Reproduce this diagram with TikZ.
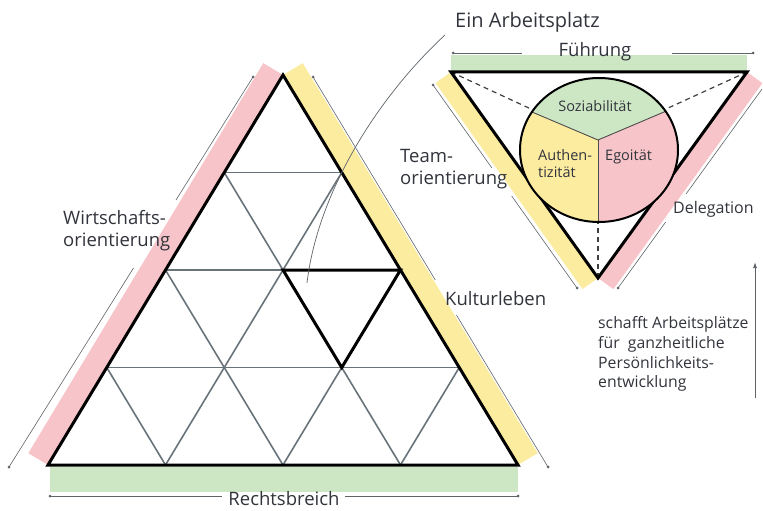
\documentclass[tikz,border=0pt]{standalone}
\usepackage{fontspec}
\setsansfont{Open Sans}
\usetikzlibrary{arrows.meta}

\definecolor{bandpink}{RGB}{247,197,201}
\definecolor{bandyellow}{RGB}{252,236,160}
\definecolor{bandgreen}{RGB}{205,231,197}
\definecolor{gridgray}{RGB}{105,115,122}
\definecolor{dimgray}{RGB}{95,100,105}
\definecolor{txtgray}{RGB}{50,52,60}

\begin{document}
\begin{tikzpicture}[
            x=1pt, y=-1pt,
            every node/.style={font=\sffamily, text=txtgray, inner sep=0pt},
            band/.style={line width=#1, line cap=butt},
            outline/.style={draw=black, line width=3pt, line join=miter},
            grid/.style={draw=gridgray, line width=1.6pt},
            dimline/.style={draw=dimgray, line width=0.6pt},
            dashline/.style={draw=black!75, line width=1.2pt, dash pattern=on 5pt off 4pt},
            sector/.style={draw=black!70, line width=0.9pt},
            ring/.style={draw=black, line width=2pt},
            pointer/.style={draw=dimgray, line width=0.7pt},
            biglabel/.style={font=\sffamily\fontsize{18.5}{22}\selectfont, align=left},
            pielabel/.style={font=\sffamily\fontsize{14.5}{17}\selectfont, align=left},
            note/.style={font=\sffamily\fontsize{15.8}{19.7}\selectfont, align=left}
        ]
            \useasboundingbox (0,0) rectangle (763,511);

            % Corners
            \coordinate (A) at (48,465);
            \coordinate (B) at (518,465);
            \coordinate (C) at (283,75);
            \coordinate (P) at (451,72);
            \coordinate (Q) at (747,72);
            \coordinate (R) at (598,278);
            \coordinate (G) at (598,140);
            \coordinate (O) at (599,150);

            % Colour bands of the big triangle
            \draw[bandpink, band=23pt] (38.15,459.06) -- (273.15,69.06);
            \draw[bandyellow, band=23pt] (292.85,69.06) -- (527.85,459.06);
            \fill[bandgreen] (50,467) rectangle (518,492);

            % Colour bands of the small triangle
            \fill[bandgreen] (451,55) rectangle (747,72);
            \draw[bandyellow, band=19pt] (443.27,77.52) -- (590.27,283.52);
            \draw[bandpink, band=19pt] (754.70,77.57) -- (605.70,283.57);

            % Measuring lines
            \draw[dimline] (9,467) -- (133.5,268);
            \draw[dimline] (176,200) -- (253,77);
            \draw[dimline] (313,77) -- (435.3,280);
            \draw[dimline] (456.4,315) -- (548,467);
            \draw[dimline] (50,496) -- (222,496);
            \draw[dimline] (345,496) -- (518,496);
            \draw[dimline] (453,53) -- (522,53);
            \draw[dimline] (672,53) -- (753,53);
            \draw[dimline] (433,85) -- (491.9,168);
            \draw[dimline] (511.7,196) -- (577,288);
            \draw[dimline] (618,288) -- (665.7,222);
            \draw[dimline] (686,194) -- (762,89);
            \fill[dimgray] (9,467) circle (1.5pt) (253,77) circle (1.5pt)
                (313,77) circle (1.5pt) (548,467) circle (1.5pt)
                (50,496) circle (1.5pt) (518,496) circle (1.5pt)
                (453,53) circle (1.5pt) (753,53) circle (1.5pt)
                (433,85) circle (1.5pt) (577,288) circle (1.5pt)
                (618,288) circle (1.5pt);

            % Grid of the big triangle
            \draw[grid] (224.25,172.5) -- (341.75,172.5);
            \draw[grid] (165.5,270) -- (400.5,270);
            \draw[grid] (106.75,367.5) -- (459.25,367.5);
            \draw[grid] (165.5,465) -- (341.75,172.5);
            \draw[grid] (283,465) -- (400.5,270);
            \draw[grid] (400.5,465) -- (459.25,367.5);
            \draw[grid] (400.5,465) -- (224.25,172.5);
            \draw[grid] (283,465) -- (165.5,270);
            \draw[grid] (165.5,465) -- (106.75,367.5);

            \draw[outline] (A) -- (B) -- (C) -- cycle;
            \draw[outline] (283,270) -- (400.5,270) -- (341.75,367.5) -- cycle;

            % Small triangle with circle
            \draw[dashline] (P) -- (G);
            \draw[dashline] (Q) -- (G);
            \draw[dashline] (R) -- (G);
            \draw[outline] (P) -- (Q) -- (R) -- cycle;
            \begin{scope}
                \clip (O) ellipse [x radius=79pt, y radius=72pt];
                \fill[bandgreen] (G) -- (466,84) -- (466,40) -- (730,40) -- (730,84) -- cycle;
                \fill[bandyellow] (G) -- (466,84) -- (466,300) -- (598,300) -- cycle;
                \fill[bandpink] (G) -- (730,84) -- (730,300) -- (598,300) -- cycle;
                \draw[sector] (466,84) -- (G) -- (730,84);
                \draw[sector] (G) -- (598,300);
            \end{scope}
            \draw[ring] (O) ellipse [x radius=79pt, y radius=72pt];

            % Labels
            \node[font=\sffamily\fontsize{20}{24}\selectfont, anchor=base west] (platz) at (455,28) {Ein Arbeitsplatz};
            \node[biglabel, anchor=base] (fuehrung) at (595,57) {Führung};
            \node[biglabel, anchor=west] (team) at (400,169) {Team-\\orientierung};
            \node[biglabel, anchor=west] (wirtschaft) at (63,231) {Wirtschafts-\\orientierung};
            \node[biglabel, anchor=base west] (kultur) at (445,305) {Kulturleben};
            \node[biglabel, anchor=base] (recht) at (284,505) {Rechtsbreich};
            \node[font=\sffamily\fontsize{16}{19}\selectfont, anchor=base west] (delegation) at (673,213) {Delegation};
            \node[pielabel, anchor=base] (sozial) at (595,111) {Soziabilität};
            \node[pielabel, anchor=west] (authen) at (538,164) {Authen-\\tizität};
            \node[pielabel, anchor=base west] (ego) at (605,160) {Egoität};
            \node[note, anchor=west] (schafft) at (598,354) {schafft Arbeitsplätze\\für\ \ ganzheitliche\\Persönlichkeits-\\entwicklung};

            % Pointer from the title to one workplace
            \coordinate (ptop) at (445,35);
            \coordinate (pend) at (307,283);
            \draw[pointer] (ptop) .. controls (380,95) and (318,190) .. (pend);

            % Arrow on the right
            \coordinate (alow) at (755,398);
            \coordinate (ahigh) at (755,262);
            \draw[dimline, line width=0.9pt, -{Latex[length=6pt, width=4pt]}] (alow) -- (ahigh);
        \end{tikzpicture}
\end{document}
